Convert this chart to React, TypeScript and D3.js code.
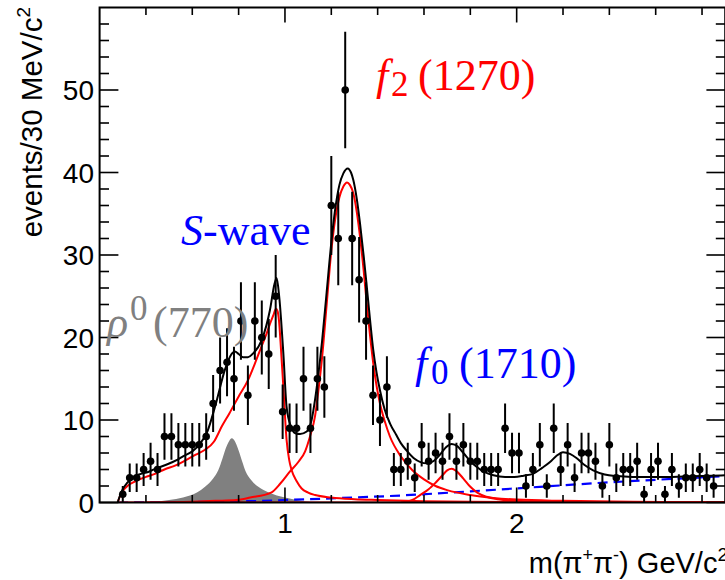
import React from "react";
import * as d3 from "d3";

// Frame geometry
const W = 725;
const H = 580;
const plotLeft = 99.6;
const plotRight = 725.2;
const plotTop = 7.5;
const plotBottom = 502.5;

// Histogram: events per 30 MeV/c^2 bin
const binFirstCentre = 0.3;
const binWidth = 0.03;
const counts = [
  1, 3, 3, 4, 5, 4, 8, 8, 7, 7, 7, 7, 8, 12, 16, 17, 15, 22, 13, 22, 20, 18, 25, 11, 9, 9, 15, 9, 15, 14,
  36, 32, 50, 32, 27, 22, 13, 10, 14, 4, 4, 5, 3, 7, 5, 6, 5, 8, 5, 7, 5, 5, 4, 4, 4, 9, 6, 6, 2, 4,
  7, 2, 9, 4, 7, 3, 6, 6, 5, 2, 7, 3, 4, 4, 5, 1, 4, 5, 1, 4, 2, 3, 3, 4, 3, 2,
];

// Fit curves, sampled as [mass, events]
const totalFit: [number, number][] = [
  [0.278, 0], [0.29, 1.0], [0.3, 1.6], [0.32, 2.4], [0.34, 3.0], [0.37, 3.4], [0.41, 3.7], [0.45, 4.2],
  [0.49, 4.6], [0.53, 5.1], [0.56, 5.6], [0.6, 6.2], [0.63, 7.0], [0.665, 8.6], [0.7, 11.8], [0.741, 16.1],
  [0.765, 17.8], [0.784, 18.3], [0.8, 18.0], [0.82, 17.6], [0.84, 17.6], [0.86, 18.0], [0.9, 19.7],
  [0.935, 23.3], [0.955, 26.5], [0.964, 27.2], [0.975, 25.0], [0.993, 18.1], [1.007, 11.6], [1.026, 9.2],
  [1.045, 8.4], [1.065, 8.3], [1.094, 8.6], [1.115, 10.0], [1.13, 12.5], [1.144, 15.5], [1.16, 19.5],
  [1.18, 25.5], [1.2, 31.5], [1.216, 35.4], [1.235, 38.5], [1.252, 39.9], [1.271, 40.5], [1.285, 40.0],
  [1.295, 39.1], [1.31, 36.8], [1.324, 33.8], [1.34, 29.8], [1.353, 26.2], [1.367, 22.2], [1.381, 18.5],
  [1.395, 15.8], [1.41, 13.6], [1.43, 11.3], [1.453, 9.6], [1.48, 8.2], [1.5, 7.2], [1.525, 6.3],
  [1.555, 5.4], [1.585, 4.9], [1.612, 4.75], [1.64, 5.0], [1.669, 5.8], [1.695, 6.7], [1.72, 7.1],
  [1.745, 6.8], [1.77, 6.0], [1.8, 5.0], [1.828, 4.3], [1.86, 3.7], [1.9, 3.3], [1.95, 3.1], [1.99, 3.1],
  [2.03, 3.25], [2.072, 3.5], [2.11, 4.2], [2.144, 4.9], [2.17, 5.6], [2.2, 6.1], [2.23, 5.9],
  [2.258, 5.4], [2.29, 4.6], [2.33, 3.9], [2.38, 3.4], [2.43, 3.2], [2.5, 3.1], [2.575, 3.1], [2.65, 3.1],
  [2.72, 3.15], [2.8, 3.2], [2.9, 3.3],
];

const sWave: [number, number][] = [
  [0.278, 0], [0.29, 0.9], [0.3, 1.4], [0.32, 2.0], [0.35, 2.5], [0.4, 3.1], [0.442, 3.5], [0.48, 4.0],
  [0.528, 4.5], [0.57, 5.1], [0.615, 5.8], [0.655, 6.4], [0.694, 7.4], [0.727, 9.2], [0.76, 10.8],
  [0.799, 12.8], [0.84, 14.8], [0.871, 16.9], [0.9, 19.0], [0.921, 20.5], [0.94, 22.0], [0.95, 22.7],
  [0.961, 23.5], [0.968, 23.2], [0.974, 22.1], [0.983, 18.5], [0.993, 14.0], [1.007, 7.6], [1.018, 5.2],
  [1.029, 3.9], [1.05, 2.6], [1.072, 1.7], [1.1, 1.2], [1.13, 0.9], [1.2, 0.6], [1.3, 0.4], [1.4, 0.3],
  [1.6, 0.15], [1.8, 0.08], [2.0, 0.05], [2.5, 0.02], [2.9, 0.01],
];

const f2Wave: [number, number][] = [
  [0.4, 0], [0.6, 0.1], [0.7, 0.2], [0.79, 0.3], [0.85, 0.6], [0.94, 1.2], [0.98, 2.3], [1.02, 3.7],
  [1.06, 5.0], [1.087, 6.2], [1.108, 8.0], [1.13, 10.5], [1.144, 13.5], [1.16, 17.5], [1.18, 24.0],
  [1.2, 30.5], [1.216, 34.2], [1.235, 37.0], [1.252, 38.3], [1.268, 38.8], [1.28, 38.5], [1.295, 37.5],
  [1.31, 35.2], [1.324, 32.2], [1.34, 28.0], [1.353, 24.1], [1.367, 20.3], [1.381, 16.9], [1.395, 14.2],
  [1.41, 12.0], [1.43, 9.9], [1.453, 8.0], [1.5, 5.6], [1.55, 3.9], [1.6, 2.8], [1.65, 2.0], [1.7, 1.5],
  [1.8, 0.9], [1.9, 0.55], [2.0, 0.35], [2.2, 0.2], [2.5, 0.1], [2.9, 0.05],
];

const f0Wave: [number, number][] = [
  [1.5, 0], [1.55, 0.3], [1.583, 0.9], [1.62, 1.6], [1.65, 2.4], [1.68, 3.3], [1.70, 3.9], [1.72, 4.1],
  [1.74, 3.8], [1.77, 2.9], [1.8, 1.9], [1.83, 1.2], [1.87, 0.7], [1.92, 0.4], [2.0, 0.2], [2.1, 0.1],
  [2.3, 0.04], [2.9, 0.01],
];

const zeroWave: [number, number][] = [[0.278, 0], [2.9, 0]];

const rhoWave: [number, number][] = [
  [0.42, 0], [0.5, 0.3], [0.56, 0.6], [0.62, 1.2], [0.655, 1.9], [0.69, 2.9], [0.712, 3.9], [0.73, 5.3],
  [0.745, 6.6], [0.76, 7.5], [0.77, 7.8], [0.78, 7.6], [0.8, 6.3], [0.815, 5.0], [0.83, 3.8], [0.855, 2.7],
  [0.885, 1.9], [0.93, 1.2], [1.0, 0.6], [1.05, 0.3], [1.1, 0.1], [1.13, 0],
];

const background: [number, number][] = [
  [0.28, 0], [0.5, 0.02], [0.7, 0.1], [0.9, 0.2], [1.0, 0.3], [1.2, 0.5], [1.5, 0.85], [1.8, 1.35],
  [2.1, 1.9], [2.4, 2.45], [2.7, 2.9], [2.9, 3.2],
];

// Axis ticks
const xMajorTicks = [1, 2];
const xMinorTicks = [0.4, 0.6, 0.8, 1.2, 1.4, 1.6, 1.8, 2.2, 2.4, 2.6, 2.8];
const yMajorTicks = [0, 10, 20, 30, 40, 50];
const yMinorTicks = [2, 4, 6, 8, 12, 14, 16, 18, 22, 24, 26, 28, 32, 34, 36, 38, 42, 44, 46, 48, 52, 54, 56, 58];

const x = d3.scaleLinear().domain([0.2, 2.9]).range([plotLeft, plotRight]);
const y = d3.scaleLinear().domain([0, 60]).range([plotBottom, plotTop]);

const line = d3
  .line<[number, number]>()
  .x((d) => x(d[0]))
  .y((d) => y(d[1]))
  .curve(d3.curveMonotoneX);

const area = d3
  .area<[number, number]>()
  .x((d) => x(d[0]))
  .y0(y(0))
  .y1((d) => y(d[1]))
  .curve(d3.curveMonotoneX);

const sans = "'Liberation Sans', Arial, Helvetica, sans-serif";
const serif = "'Liberation Serif', 'Times New Roman', serif";

const xTickLen = 15;
const yTickLen = 18.8;
const labelSize = 44;
const indexSize = 35;

export default function App() {
  const points = counts.map((n, i) => ({ m: binFirstCentre + i * binWidth, n, err: Math.sqrt(n) }));
  return (
    <svg
      width={W}
      height={H}
      viewBox={`0 0 ${W} ${H}`}
      style={{ position: "absolute", left: 0, top: 0, background: "#fff" }}
    >
      <defs>
        <clipPath id="plotClip">
          <rect x={plotLeft} y={plotTop} width={plotRight - plotLeft} height={plotBottom - plotTop} />
        </clipPath>
      </defs>

      <g clipPath="url(#plotClip)">
        <path d={area(rhoWave) ?? ""} fill="#808080" stroke="none" />
        <path d={line(background) ?? ""} fill="none" stroke="#0000ff" strokeWidth={2.2} strokeDasharray="10 6" />
        <path d={line(zeroWave) ?? ""} fill="none" stroke="#ff0000" strokeWidth={2.2} />
        <path d={line(f0Wave) ?? ""} fill="none" stroke="#ff0000" strokeWidth={2} />
        <path d={line(sWave) ?? ""} fill="none" stroke="#ff0000" strokeWidth={2} />
        <path d={line(f2Wave) ?? ""} fill="none" stroke="#ff0000" strokeWidth={2} />
        <path d={line(totalFit) ?? ""} fill="none" stroke="#000" strokeWidth={2} />

        {points.map((p, i) => (
          <g key={i}>
            <line
              x1={x(p.m)}
              x2={x(p.m)}
              y1={y(Math.max(0, p.n - p.err))}
              y2={y(p.n + p.err)}
              stroke="#000"
              strokeWidth={2}
            />
            <circle cx={x(p.m)} cy={y(p.n)} r={3.8} fill="#000" />
          </g>
        ))}
      </g>

      {/* frame */}
      <rect
        x={plotLeft}
        y={plotTop}
        width={plotRight - plotLeft}
        height={plotBottom - plotTop}
        fill="none"
        stroke="#000"
        strokeWidth={2}
      />

      {/* x ticks, bottom and top */}
      {xMajorTicks.map((t) => (
        <g key={`xM${t}`} stroke="#000" strokeWidth={1.6}>
          <line x1={x(t)} x2={x(t)} y1={plotBottom} y2={plotBottom - xTickLen} />
          <line x1={x(t)} x2={x(t)} y1={plotTop} y2={plotTop + xTickLen} />
        </g>
      ))}
      {xMinorTicks.map((t) => (
        <g key={`xm${t}`} stroke="#000" strokeWidth={1.6}>
          <line x1={x(t)} x2={x(t)} y1={plotBottom} y2={plotBottom - xTickLen / 2} />
          <line x1={x(t)} x2={x(t)} y1={plotTop} y2={plotTop + xTickLen / 2} />
        </g>
      ))}

      {/* y ticks, left and right */}
      {yMajorTicks.map((t) => (
        <g key={`yM${t}`} stroke="#000" strokeWidth={1.6}>
          <line x1={plotLeft} x2={plotLeft + yTickLen} y1={y(t)} y2={y(t)} />
          <line x1={plotRight} x2={plotRight - yTickLen} y1={y(t)} y2={y(t)} />
        </g>
      ))}
      {yMinorTicks.map((t) => (
        <g key={`ym${t}`} stroke="#000" strokeWidth={1.6}>
          <line x1={plotLeft} x2={plotLeft + yTickLen / 2} y1={y(t)} y2={y(t)} />
          <line x1={plotRight} x2={plotRight - yTickLen / 2} y1={y(t)} y2={y(t)} />
        </g>
      ))}

      {/* tick labels */}
      {yMajorTicks.map((t) => (
        <text
          key={`yl${t}`}
          x={94}
          y={y(t)}
          dy="0.36em"
          textAnchor="end"
          fontFamily={sans}
          fontSize={28}
          fill="#000"
        >
          {t}
        </text>
      ))}
      {xMajorTicks.map((t) => (
        <text key={`xl${t}`} x={x(t)} y={533} textAnchor="middle" fontFamily={sans} fontSize={28} fill="#000">
          {t}
        </text>
      ))}

      {/* axis titles */}
      <text x={728} y={573} textAnchor="end" fontFamily={sans} fontSize={29} fill="#000">
        m(π<tspan fontSize={18} dy={-12}>+</tspan>
        <tspan dy={12}>π</tspan>
        <tspan fontSize={18} dy={-12}>-</tspan>
        <tspan dy={12}>) GeV/c</tspan>
        <tspan fontSize={19} dy={-12}>2</tspan>
      </text>
      <text
        transform="translate(42,7) rotate(-90)"
        textAnchor="end"
        fontFamily={sans}
        fontSize={29.5}
        fill="#000"
      >
        events/30 MeV/c<tspan fontSize={19} dy={-12}>2</tspan>
      </text>

      {/* component labels */}
      <text y={90} fontFamily={serif} fontSize={labelSize} fill="#ff0000">
        <tspan x={376} fontStyle="italic">f</tspan>
        <tspan x={391} fontSize={indexSize} dy={6}>2</tspan>
        <tspan x={418} dy={-6}>(1270)</tspan>
      </text>
      <text x={181} y={245} fontFamily={serif} fontSize={labelSize} fill="#0000ff">
        <tspan fontStyle="italic">S</tspan>-wave
      </text>
      <text y={378} fontFamily={serif} fontSize={labelSize} fill="#0000ff">
        <tspan x={415} fontStyle="italic">f</tspan>
        <tspan x={431} fontSize={indexSize} dy={6}>0</tspan>
        <tspan x={459} dy={-6}>(1710)</tspan>
      </text>
      <text y={337} fontFamily={serif} fontSize={labelSize} fill="#808080">
        <tspan x={107} fontStyle="italic">ρ</tspan>
        <tspan x={130} fontSize={indexSize} dy={-17}>0</tspan>
        <tspan x={153} dy={17}>(770)</tspan>
      </text>
    </svg>
  );
}
